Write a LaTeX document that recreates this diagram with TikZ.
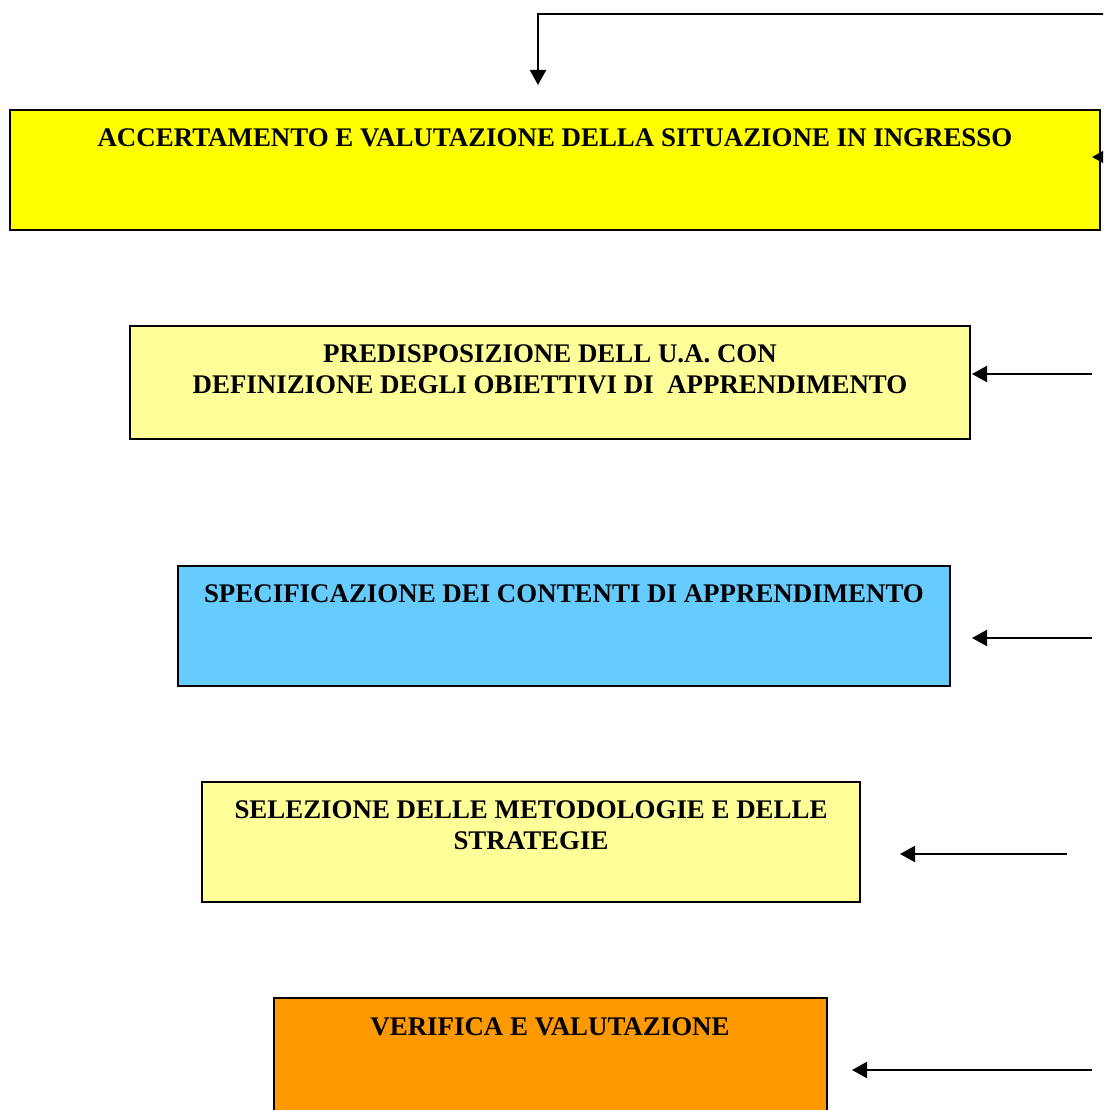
\documentclass[tikz,border=0pt]{standalone}
\usepackage{fontspec}
\setmainfont{Liberation Serif}
\usetikzlibrary{arrows.meta}
\definecolor{boxyellow}{HTML}{FFFF00}
\definecolor{paleyellow}{HTML}{FFFF99}
\definecolor{skyblue}{HTML}{66CCFF}
\definecolor{deeporange}{HTML}{FF9900}
\tikzset{
  stagebox/.style={draw=black, line width=2pt, inner sep=0pt},
  stagetext/.style={font=\fontsize{26.9}{31}\selectfont\bfseries, align=center, inner sep=0pt, anchor=center},
  feed/.style={line width=2pt, -{Triangle[length=15pt,width=16pt]}},
}
\begin{document}
\begin{tikzpicture}[x=1pt,y=-1pt]
\useasboundingbox (0,0) rectangle (1103,1110);
\clip (0,0) rectangle (1103,1110);
% stage boxes
\draw[stagebox, fill=boxyellow] (10,110) rectangle (1100,230);
\draw[stagebox, fill=paleyellow] (130,326) rectangle (970,439);
\draw[stagebox, fill=skyblue] (178,566) rectangle (950,686);
\draw[stagebox, fill=paleyellow] (202,782) rectangle (860,902);
\draw[stagebox, fill=deeporange] (274,998) rectangle (827,1125);
% box captions
\node[stagetext] (t1) at (555,138) {ACCERTAMENTO E VALUTAZIONE DELLA SITUAZIONE IN INGRESSO};
\node[stagetext] (t2) at (550,369) {PREDISPOSIZIONE DELL U.A. CON\\DEFINIZIONE DEGLI OBIETTIVI DI \ APPRENDIMENTO};
\node[stagetext] (t3) at (564,594) {SPECIFICAZIONE DEI CONTENTI DI APPRENDIMENTO};
\node[stagetext] (t4) at (531,825) {SELEZIONE DELLE METODOLOGIE E DELLE\\STRATEGIE};
\node[stagetext] (t5) at (550,1027) {VERIFICA E VALUTAZIONE};
% return loop at the top
\coordinate (loopR) at (1115,14);
\coordinate (loopC) at (538,14);
\coordinate (loopT) at (538,85);
\draw[feed] (loopR) -- (loopC) -- (loopT);
% incoming arrows from the right
\coordinate (s1) at (1120,157);
\coordinate (e1) at (1092,157);
\draw[feed] (s1) -- (e1);
\coordinate (s2) at (1092,374);
\coordinate (e2) at (972,374);
\draw[feed] (s2) -- (e2);
\coordinate (s3) at (1092,638);
\coordinate (e3) at (972,638);
\draw[feed] (s3) -- (e3);
\coordinate (s4) at (1067,854);
\coordinate (e4) at (900,854);
\draw[feed] (s4) -- (e4);
\coordinate (s5) at (1092,1070);
\coordinate (e5) at (852,1070);
\draw[feed] (s5) -- (e5);
\end{tikzpicture}
\end{document}
